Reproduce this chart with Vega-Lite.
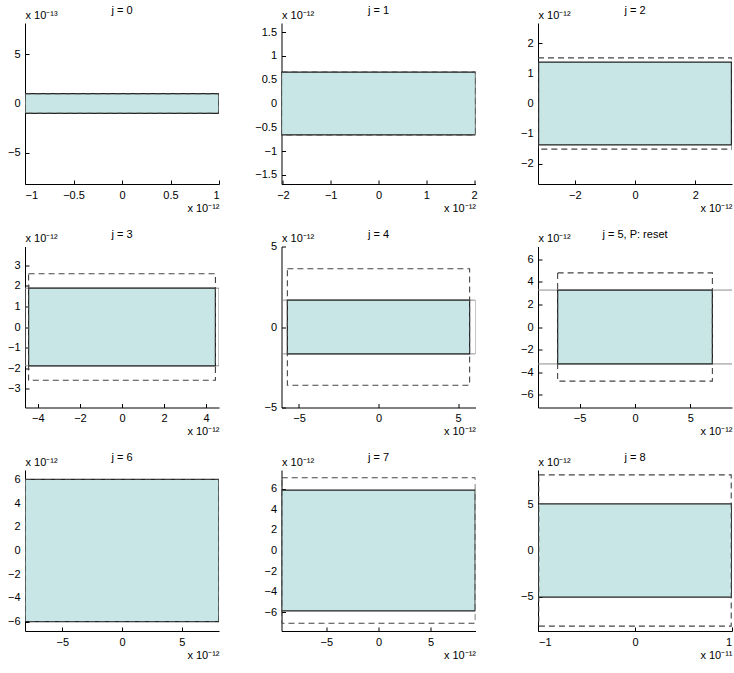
{
  "$schema": "https://vega.github.io/schema/vega-lite/v6.json",
  "padding": {"left": 7, "top": 5, "right": 0, "bottom": 0},
  "datasets": {
    "j0": [
      {"kind": "fill", "x1": -1, "x2": 1, "y1": -0.1, "y2": 0.1},
      {"kind": "dash", "x1": -1, "x2": 1, "y1": -0.1, "y2": 0.1}
    ],
    "j1": [
      {"kind": "fill", "x1": -2.03, "x2": 2.03, "y1": -0.66, "y2": 0.66},
      {"kind": "dash", "x1": -2.03, "x2": 2.03, "y1": -0.66, "y2": 0.66}
    ],
    "j2": [
      {"kind": "fill", "x1": -3.2, "x2": 3.2, "y1": -1.38, "y2": 1.38},
      {"kind": "dash", "x1": -3.22, "x2": 3.22, "y1": -1.52, "y2": 1.52}
    ],
    "j3": [
      {"kind": "outer", "x1": -4.61, "x2": 4.61, "y1": -1.88, "y2": 1.88},
      {"kind": "fill", "x1": -4.44, "x2": 4.44, "y1": -1.88, "y2": 1.88},
      {"kind": "dash", "x1": -4.44, "x2": 4.44, "y1": -2.58, "y2": 2.58}
    ],
    "j4": [
      {"kind": "outer", "x1": -6.1, "x2": 6.1, "y1": -1.67, "y2": 1.67},
      {"kind": "fill", "x1": -5.73, "x2": 5.73, "y1": -1.67, "y2": 1.67},
      {"kind": "dash", "x1": -5.73, "x2": 5.73, "y1": -3.62, "y2": 3.62}
    ],
    "j5": [
      {"kind": "outer", "x1": -9.5, "x2": 9.5, "y1": -3.28, "y2": 3.28},
      {"kind": "fill", "x1": -6.98, "x2": 6.98, "y1": -3.28, "y2": 3.28},
      {"kind": "dash", "x1": -6.98, "x2": 6.98, "y1": -4.81, "y2": 4.81}
    ],
    "j6": [
      {"kind": "fill", "x1": -8.12, "x2": 8.12, "y1": -6.0, "y2": 6.0},
      {"kind": "dash", "x1": -8.12, "x2": 8.12, "y1": -6.0, "y2": 6.0}
    ],
    "j7": [
      {"kind": "fill", "x1": -9.27, "x2": 9.27, "y1": -5.89, "y2": 5.89},
      {"kind": "dash", "x1": -9.28, "x2": 9.28, "y1": -7.1, "y2": 7.1}
    ],
    "j8": [
      {"kind": "fill", "x1": -10.02, "x2": 10.02, "y1": -5.05, "y2": 5.05},
      {"kind": "dash", "x1": -9.97, "x2": 9.97, "y1": -8.2, "y2": 8.2}
    ]
  },
  "columns": 3,
  "spacing": {"row": 62.5, "column": 62.5},
  "bounds": "flush",
  "concat": [
    {
      "width": 194, "height": 161,
      "title": {"text": "j = 0"},
      "data": {"name": "j0"},
      "encoding": {
        "x": {"field": "x1", "type": "quantitative", "scale": {"domain": [-1, 1], "nice": false, "zero": false}, "axis": {"values": [-1, -0.5, 0, 0.5, 1], "format": "~g", "title": "x 10⁻¹²"}},
        "x2": {"field": "x2"},
        "y": {"field": "y1", "type": "quantitative", "scale": {"domain": [-0.82, 0.82], "nice": false, "zero": false}, "axis": {"values": [-0.5, 0, 0.5], "labelExpr": "format(datum.value*10,'~g')", "title": "x 10⁻¹³"}},
        "y2": {"field": "y2"}
      },
      "layer": [
        {"transform": [{"filter": "datum.kind == 'outer'"}], "mark": {"type": "rect", "filled": false, "stroke": "#8c8c8c", "strokeWidth": 1, "clip": true}},
        {"transform": [{"filter": "datum.kind == 'fill'"}], "mark": {"type": "rect", "fill": "#c8e6e5", "stroke": "#222222", "strokeWidth": 1.2, "clip": true}},
        {"transform": [{"filter": "datum.kind == 'dash'"}], "mark": {"type": "rect", "filled": false, "stroke": "#444444", "strokeWidth": 1.1, "strokeDash": [6, 4], "clip": true}}
      ]
    },
    {
      "width": 194, "height": 161,
      "title": {"text": "j = 1"},
      "data": {"name": "j1"},
      "encoding": {
        "x": {"field": "x1", "type": "quantitative", "scale": {"domain": [-2.03, 2.03], "nice": false, "zero": false}, "axis": {"values": [-2, -1, 0, 1, 2], "format": "~g", "title": "x 10⁻¹²"}},
        "x2": {"field": "x2"},
        "y": {"field": "y1", "type": "quantitative", "scale": {"domain": [-1.69, 1.69], "nice": false, "zero": false}, "axis": {"values": [-1.5, -1, -0.5, 0, 0.5, 1, 1.5], "format": "~g", "title": "x 10⁻¹²"}},
        "y2": {"field": "y2"}
      },
      "layer": [
        {"transform": [{"filter": "datum.kind == 'outer'"}], "mark": {"type": "rect", "filled": false, "stroke": "#8c8c8c", "strokeWidth": 1, "clip": true}},
        {"transform": [{"filter": "datum.kind == 'fill'"}], "mark": {"type": "rect", "fill": "#c8e6e5", "stroke": "#222222", "strokeWidth": 1.2, "clip": true}},
        {"transform": [{"filter": "datum.kind == 'dash'"}], "mark": {"type": "rect", "filled": false, "stroke": "#444444", "strokeWidth": 1.1, "strokeDash": [6, 4], "clip": true}}
      ]
    },
    {
      "width": 194, "height": 161,
      "title": {"text": "j = 2"},
      "data": {"name": "j2"},
      "encoding": {
        "x": {"field": "x1", "type": "quantitative", "scale": {"domain": [-3.22, 3.22], "nice": false, "zero": false}, "axis": {"values": [-2, 0, 2], "format": "~g", "title": "x 10⁻¹²"}},
        "x2": {"field": "x2"},
        "y": {"field": "y1", "type": "quantitative", "scale": {"domain": [-2.68, 2.68], "nice": false, "zero": false}, "axis": {"values": [-2, -1, 0, 1, 2], "format": "~g", "title": "x 10⁻¹²"}},
        "y2": {"field": "y2"}
      },
      "layer": [
        {"transform": [{"filter": "datum.kind == 'outer'"}], "mark": {"type": "rect", "filled": false, "stroke": "#8c8c8c", "strokeWidth": 1, "clip": true}},
        {"transform": [{"filter": "datum.kind == 'fill'"}], "mark": {"type": "rect", "fill": "#c8e6e5", "stroke": "#222222", "strokeWidth": 1.2, "clip": true}},
        {"transform": [{"filter": "datum.kind == 'dash'"}], "mark": {"type": "rect", "filled": false, "stroke": "#444444", "strokeWidth": 1.1, "strokeDash": [6, 4], "clip": true}}
      ]
    },
    {
      "width": 194, "height": 161,
      "title": {"text": "j = 3"},
      "data": {"name": "j3"},
      "encoding": {
        "x": {"field": "x1", "type": "quantitative", "scale": {"domain": [-4.61, 4.61], "nice": false, "zero": false}, "axis": {"values": [-4, -2, 0, 2, 4], "format": "~g", "title": "x 10⁻¹²"}},
        "x2": {"field": "x2"},
        "y": {"field": "y1", "type": "quantitative", "scale": {"domain": [-3.9, 3.9], "nice": false, "zero": false}, "axis": {"values": [-3, -2, -1, 0, 1, 2, 3], "format": "~g", "title": "x 10⁻¹²"}},
        "y2": {"field": "y2"}
      },
      "layer": [
        {"transform": [{"filter": "datum.kind == 'outer'"}], "mark": {"type": "rect", "filled": false, "stroke": "#8c8c8c", "strokeWidth": 1, "clip": true}},
        {"transform": [{"filter": "datum.kind == 'fill'"}], "mark": {"type": "rect", "fill": "#c8e6e5", "stroke": "#222222", "strokeWidth": 1.2, "clip": true}},
        {"transform": [{"filter": "datum.kind == 'dash'"}], "mark": {"type": "rect", "filled": false, "stroke": "#444444", "strokeWidth": 1.1, "strokeDash": [6, 4], "clip": true}}
      ]
    },
    {
      "width": 194, "height": 161,
      "title": {"text": "j = 4"},
      "data": {"name": "j4"},
      "encoding": {
        "x": {"field": "x1", "type": "quantitative", "scale": {"domain": [-6.1, 6.1], "nice": false, "zero": false}, "axis": {"values": [-5, 0, 5], "format": "~g", "title": "x 10⁻¹²"}},
        "x2": {"field": "x2"},
        "y": {"field": "y1", "type": "quantitative", "scale": {"domain": [-5, 5], "nice": false, "zero": false}, "axis": {"values": [-5, 0, 5], "format": "~g", "title": "x 10⁻¹²"}},
        "y2": {"field": "y2"}
      },
      "layer": [
        {"transform": [{"filter": "datum.kind == 'outer'"}], "mark": {"type": "rect", "filled": false, "stroke": "#8c8c8c", "strokeWidth": 1, "clip": true}},
        {"transform": [{"filter": "datum.kind == 'fill'"}], "mark": {"type": "rect", "fill": "#c8e6e5", "stroke": "#222222", "strokeWidth": 1.2, "clip": true}},
        {"transform": [{"filter": "datum.kind == 'dash'"}], "mark": {"type": "rect", "filled": false, "stroke": "#444444", "strokeWidth": 1.1, "strokeDash": [6, 4], "clip": true}}
      ]
    },
    {
      "width": 194, "height": 161,
      "title": {"text": "j = 5, P: reset"},
      "data": {"name": "j5"},
      "encoding": {
        "x": {"field": "x1", "type": "quantitative", "scale": {"domain": [-8.75, 8.75], "nice": false, "zero": false}, "axis": {"values": [-5, 0, 5], "format": "~g", "title": "x 10⁻¹²"}},
        "x2": {"field": "x2"},
        "y": {"field": "y1", "type": "quantitative", "scale": {"domain": [-7.15, 7.15], "nice": false, "zero": false}, "axis": {"values": [-6, -4, -2, 0, 2, 4, 6], "format": "~g", "title": "x 10⁻¹²"}},
        "y2": {"field": "y2"}
      },
      "layer": [
        {"transform": [{"filter": "datum.kind == 'outer'"}], "mark": {"type": "rect", "filled": false, "stroke": "#8c8c8c", "strokeWidth": 1, "clip": true}},
        {"transform": [{"filter": "datum.kind == 'fill'"}], "mark": {"type": "rect", "fill": "#c8e6e5", "stroke": "#222222", "strokeWidth": 1.2, "clip": true}},
        {"transform": [{"filter": "datum.kind == 'dash'"}], "mark": {"type": "rect", "filled": false, "stroke": "#444444", "strokeWidth": 1.1, "strokeDash": [6, 4], "clip": true}}
      ]
    },
    {
      "width": 194, "height": 161,
      "title": {"text": "j = 6"},
      "data": {"name": "j6"},
      "encoding": {
        "x": {"field": "x1", "type": "quantitative", "scale": {"domain": [-8.12, 8.12], "nice": false, "zero": false}, "axis": {"values": [-5, 0, 5], "format": "~g", "title": "x 10⁻¹²"}},
        "x2": {"field": "x2"},
        "y": {"field": "y1", "type": "quantitative", "scale": {"domain": [-6.8, 6.8], "nice": false, "zero": false}, "axis": {"values": [-6, -4, -2, 0, 2, 4, 6], "format": "~g", "title": "x 10⁻¹²"}},
        "y2": {"field": "y2"}
      },
      "layer": [
        {"transform": [{"filter": "datum.kind == 'outer'"}], "mark": {"type": "rect", "filled": false, "stroke": "#8c8c8c", "strokeWidth": 1, "clip": true}},
        {"transform": [{"filter": "datum.kind == 'fill'"}], "mark": {"type": "rect", "fill": "#c8e6e5", "stroke": "#222222", "strokeWidth": 1.2, "clip": true}},
        {"transform": [{"filter": "datum.kind == 'dash'"}], "mark": {"type": "rect", "filled": false, "stroke": "#444444", "strokeWidth": 1.1, "strokeDash": [6, 4], "clip": true}}
      ]
    },
    {
      "width": 194, "height": 161,
      "title": {"text": "j = 7"},
      "data": {"name": "j7"},
      "encoding": {
        "x": {"field": "x1", "type": "quantitative", "scale": {"domain": [-9.3, 9.3], "nice": false, "zero": false}, "axis": {"values": [-5, 0, 5], "format": "~g", "title": "x 10⁻¹²"}},
        "x2": {"field": "x2"},
        "y": {"field": "y1", "type": "quantitative", "scale": {"domain": [-7.85, 7.85], "nice": false, "zero": false}, "axis": {"values": [-6, -4, -2, 0, 2, 4, 6], "format": "~g", "title": "x 10⁻¹²"}},
        "y2": {"field": "y2"}
      },
      "layer": [
        {"transform": [{"filter": "datum.kind == 'outer'"}], "mark": {"type": "rect", "filled": false, "stroke": "#8c8c8c", "strokeWidth": 1, "clip": true}},
        {"transform": [{"filter": "datum.kind == 'fill'"}], "mark": {"type": "rect", "fill": "#c8e6e5", "stroke": "#222222", "strokeWidth": 1.2, "clip": true}},
        {"transform": [{"filter": "datum.kind == 'dash'"}], "mark": {"type": "rect", "filled": false, "stroke": "#444444", "strokeWidth": 1.1, "strokeDash": [6, 4], "clip": true}}
      ]
    },
    {
      "width": 194, "height": 161,
      "title": {"text": "j = 8"},
      "data": {"name": "j8"},
      "encoding": {
        "x": {"field": "x1", "type": "quantitative", "scale": {"domain": [-10.05, 10.05], "nice": false, "zero": false}, "axis": {"values": [-10, 0, 10], "labelExpr": "format(datum.value/10,'~g')", "title": "x 10⁻¹¹"}},
        "x2": {"field": "x2"},
        "y": {"field": "y1", "type": "quantitative", "scale": {"domain": [-8.73, 8.73], "nice": false, "zero": false}, "axis": {"values": [-5, 0, 5], "format": "~g", "title": "x 10⁻¹²"}},
        "y2": {"field": "y2"}
      },
      "layer": [
        {"transform": [{"filter": "datum.kind == 'outer'"}], "mark": {"type": "rect", "filled": false, "stroke": "#8c8c8c", "strokeWidth": 1, "clip": true}},
        {"transform": [{"filter": "datum.kind == 'fill'"}], "mark": {"type": "rect", "fill": "#c8e6e5", "stroke": "#222222", "strokeWidth": 1.2, "clip": true}},
        {"transform": [{"filter": "datum.kind == 'dash'"}], "mark": {"type": "rect", "filled": false, "stroke": "#444444", "strokeWidth": 1.1, "strokeDash": [6, 4], "clip": true}}
      ]
    }
  ],
  "config": {
    "view": {"stroke": null},
    "font": "Liberation Sans",
    "axis": {
      "grid": false,
      "domainColor": "#000000",
      "domainWidth": 1,
      "tickColor": "#000000",
      "tickSize": -4,
      "labelPadding": 9,
      "labelFont": "Liberation Sans",
      "labelFontSize": 11,
      "labelColor": "#000000",
      "titleFont": "Liberation Sans",
      "titleFontSize": 11,
      "titleFontWeight": "normal",
      "titleColor": "#000000"
    },
    "axisY": {"titleAngle": 0, "titleAlign": "left", "titleBaseline": "alphabetic", "titleX": 0, "titleY": -5},
    "axisX": {"titleAlign": "right", "titleBaseline": "alphabetic", "titleX": 194, "titleY": 27},
    "title": {"font": "Liberation Sans", "fontSize": 11, "fontWeight": "normal", "color": "#000000", "frame": "group", "baseline": "alphabetic", "offset": -7, "anchor": "middle"}
  }
}
